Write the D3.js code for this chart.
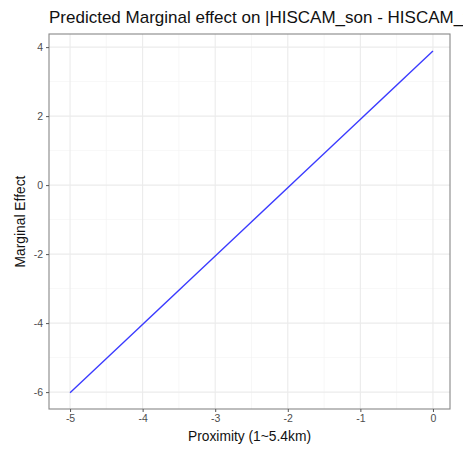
<!DOCTYPE html>
<html>
<head>
<meta charset="utf-8">
<script src="https://cdn.jsdelivr.net/npm/d3@7"></script>
<style>
  html, body { margin: 0; padding: 0; background: #fff; overflow: hidden; }
  svg { display: block; font-family: "Liberation Sans", Arial, sans-serif; }
</style>
</head>
<body>
<svg id="chart" width="463" height="452"></svg>
<script>
// Predicted marginal effect across proximity
const proximity = [-5, 0];
const marginalEffect = [-6.02, 3.89];
const xTicks = [-5, -4, -3, -2, -1, 0];
const yTicks = [-6, -4, -2, 0, 2, 4];
const xMinor = [-4.5, -3.5, -2.5, -1.5, -0.5];
const yMinor = [-5, -3, -1, 1, 3];

const titleText = "Predicted Marginal effect on |HISCAM_son - HISCAM_father|";
const xTitle = "Proximity (1~5.4km)";
const yTitle = "Marginal Effect";

const svg = d3.select("#chart");
const panel = { left: 49, right: 450, top: 34, bottom: 409 };

const x = d3.scaleLinear().domain([-5.29, 0.235]).range([panel.left, panel.right]);
const y = d3.scaleLinear().domain([-6.49, 4.38]).range([panel.bottom, panel.top]);

// grid lines
const g = svg.append("g");
g.selectAll(".xminor").data(xMinor).join("line")
  .attr("x1", d => x(d)).attr("x2", d => x(d))
  .attr("y1", panel.top).attr("y2", panel.bottom)
  .attr("stroke", "#f2f2f2").attr("stroke-width", 0.6);
g.selectAll(".yminor").data(yMinor).join("line")
  .attr("y1", d => y(d)).attr("y2", d => y(d))
  .attr("x1", panel.left).attr("x2", panel.right)
  .attr("stroke", "#f2f2f2").attr("stroke-width", 0.6);
g.selectAll(".xmajor").data(xTicks).join("line")
  .attr("x1", d => x(d)).attr("x2", d => x(d))
  .attr("y1", panel.top).attr("y2", panel.bottom)
  .attr("stroke", "#ebebeb").attr("stroke-width", 1.1);
g.selectAll(".ymajor").data(yTicks).join("line")
  .attr("y1", d => y(d)).attr("y2", d => y(d))
  .attr("x1", panel.left).attr("x2", panel.right)
  .attr("stroke", "#ebebeb").attr("stroke-width", 1.1);

// effect line
const line = d3.line().x((d, i) => x(proximity[i])).y(d => y(d));
svg.append("path")
  .datum(marginalEffect)
  .attr("d", line)
  .attr("fill", "none")
  .attr("stroke", "#3a3aff")
  .attr("stroke-width", 1.4);

// panel border
svg.append("rect")
  .attr("x", panel.left).attr("y", panel.top)
  .attr("width", panel.right - panel.left).attr("height", panel.bottom - panel.top)
  .attr("fill", "none").attr("stroke", "#888").attr("stroke-width", 1.1);

// axes
const xAxis = d3.axisBottom(x).tickValues(xTicks).tickSize(3).tickPadding(3).tickFormat(d3.format("d"));
const yAxis = d3.axisLeft(y).tickValues(yTicks).tickSize(3).tickPadding(3).tickFormat(d3.format("d"));

const gx = svg.append("g").attr("transform", `translate(0,${panel.bottom})`).call(xAxis);
const gy = svg.append("g").attr("transform", `translate(${panel.left},0)`).call(yAxis);
[gx, gy].forEach(a => {
  a.select(".domain").remove();
  a.selectAll(".tick line").attr("stroke", "#555").attr("stroke-width", 1);
  a.selectAll(".tick text").attr("fill", "#4d4d4d").style("font-size", "10.5px")
    .style("font-family", "'Liberation Sans', Arial, sans-serif");
});
gx.selectAll(".tick text").text(d => d < 0 ? "-" + Math.abs(d) : d);
gy.selectAll(".tick text").text(d => d < 0 ? "-" + Math.abs(d) : d);

// titles (the long plot title runs past the right edge of the canvas)
svg.append("text")
  .attr("x", panel.left).attr("y", 23)
  .attr("fill", "#111").style("font-size", "17px")
  .text(titleText);

svg.append("text")
  .attr("x", (panel.left + panel.right) / 2).attr("y", 441)
  .attr("text-anchor", "middle").attr("fill", "#111").style("font-size", "13.8px")
  .text(xTitle);

svg.append("text")
  .attr("transform", `translate(25,${(panel.top + panel.bottom) / 2}) rotate(-90)`)
  .attr("text-anchor", "middle").attr("fill", "#111").style("font-size", "13.8px")
  .text(yTitle);
</script>
</body>
</html>
